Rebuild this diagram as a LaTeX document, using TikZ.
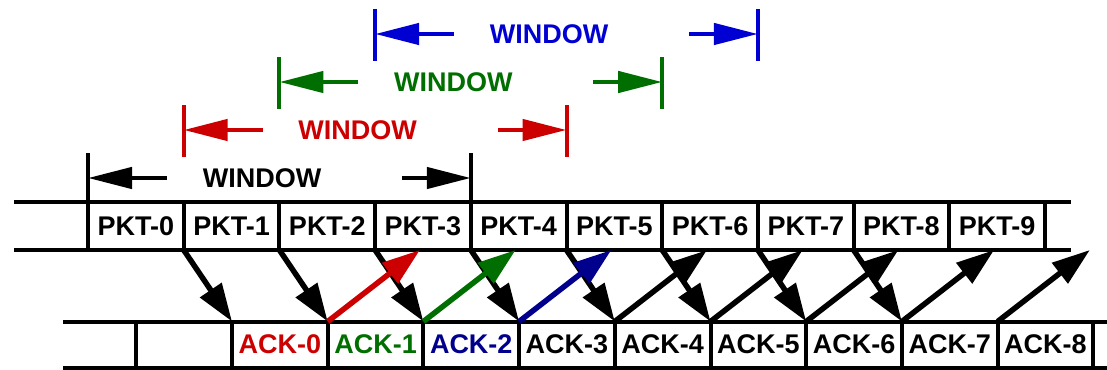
\documentclass[tikz,border=0pt]{standalone}
\usepackage{fontspec}
\setmainfont{Liberation Sans}
\usetikzlibrary{arrows.meta}
\definecolor{winred}{RGB}{204,0,0}
\definecolor{wingreen}{RGB}{0,110,0}
\definecolor{winblue}{RGB}{0,0,210}
\definecolor{ackblue}{RGB}{0,0,140}

\begin{document}
\begin{tikzpicture}[x=1pt,y=-1pt,
    cell/.style={draw, line width=4pt, minimum width=95.7pt, minimum height=48pt,
      inner sep=0pt, outer sep=0pt, font=\fontsize{27}{31}\selectfont\bfseries},
    rowline/.style={line width=4pt},
    arr/.style={line width=5.5pt, -{Triangle[length=38pt,width=25pt]}},
    warr/.style={line width=4.5pt, -{Triangle[length=44pt,width=21pt]}},
    wtext/.style={font=\fontsize{27}{31}\selectfont\bfseries}]
    \useasboundingbox (0,0) rectangle (1107,369);

    % draw packet cells
    \foreach \i in {0,...,9}
    \node[cell] (p\i) at (135.85+95.7*\i,226) {PKT-\i};

    % draw ack cells
    \node[cell, minimum height=46pt] (ae) at (184.15,344.5) {};
    \foreach \i/\c in {0/winred,1/wingreen,2/ackblue,3/black,4/black,5/black,6/black,7/black,8/black}
    \node[cell, minimum height=46pt, text=\c] (a\i) at (279.85+95.7*\i,344.5) {ACK-\i};

    % draw horizontal lines
    \draw[rowline] ([xshift=-74pt]p0.north west) -- ([xshift=26pt]p9.north east);
    \draw[rowline] ([xshift=-74pt]p0.south west) -- ([xshift=26pt]p9.south east);
    \draw[rowline] ([xshift=-73pt]ae.north west) -- ([xshift=14pt]a8.north east);
    \draw[rowline] ([xshift=-73pt]ae.south west) -- ([xshift=14pt]a8.south east);

    % draw packet arrows
    \foreach \i in {1,...,8}{
      \pgfmathtruncatemacro\j{\i-1}
      \draw[arr] (p\i.south west) -- (a\j.north west);
    }

    % draw ack arrows
    \foreach \i in {3,...,9}
    \coordinate (t\i) at ([xshift=-3pt]p\i.south);
    \coordinate (t10) at ([xshift=92.7pt]p9.south);
    \foreach \k/\c in {1/winred,2/wingreen,3/ackblue,4/black,5/black,6/black,7/black,8/black}{
      \pgfmathtruncatemacro\m{\k+2}
      \draw[arr, \c] (a\k.north west) -- (t\m);
    }

    % draw windows
    \foreach \k/\r/\c in {0/4/black,1/5/winred,2/6/wingreen,3/7/winblue}{
      \pgfmathsetmacro\wy{178-48*\k}
      \coordinate (wl\k) at (p\k.north west |- 0,\wy);
      \coordinate (wr\k) at (p\r.north west |- 0,\wy);
      \draw[\c, rowline] ([yshift=25pt]wl\k) -- ([yshift=-27pt]wl\k);
      \draw[\c, rowline] ([yshift=25pt]wr\k) -- ([yshift=-27pt]wr\k);
      \draw[\c, warr] ([xshift=79pt]wl\k) -- (wl\k);
      \draw[\c, warr] ([xshift=-69pt]wr\k) -- (wr\k);
      \node[\c, wtext] (wt\k) at ([xshift=174pt]wl\k) {WINDOW};
    }
\end{tikzpicture}
\end{document}
